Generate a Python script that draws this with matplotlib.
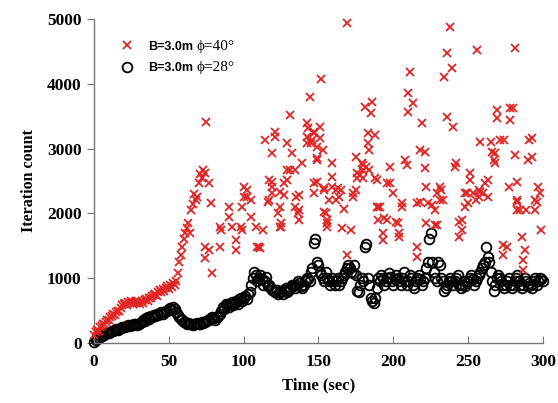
import numpy as np
import matplotlib.pyplot as plt

# black circles: B=3.0m phi=28deg, one value per second (t = 0..300)
black_count = [
    20, 40, 60, 80, 100, 110, 120, 130, 150, 160,
    160, 170, 180, 190, 200, 210, 200, 220, 230, 240,
    250, 240, 260, 270, 260, 280, 270, 290, 300, 280,
    300, 310, 330, 350, 340, 380, 400, 370, 420, 400,
    430, 410, 450, 430, 460, 480, 450, 470, 500, 490,
    520, 540, 510, 550, 520, 480, 430, 400, 370, 350,
    330, 320, 300, 310, 290, 300, 280, 290, 300, 310,
    290, 300, 320, 310, 330, 340, 360, 350, 380, 400,
    380, 360, 400, 420, 450, 500, 550, 520, 600, 580,
    560, 600, 630, 580, 620, 650, 600, 680, 700, 650,
    700, 720, 680, 750, 780, 900, 1000, 1100, 1050, 950,
    1000, 1050, 980, 900, 950, 1020, 880, 900, 850, 820,
    800, 780, 820, 750, 780, 800, 760, 820, 850, 780,
    820, 850, 900, 880, 850, 900, 950, 920, 880, 850,
    900, 950, 1000, 980, 950, 1100, 1150, 1550, 1600, 1250,
    1200, 1100, 1050, 1000, 950, 1100, 1000, 950, 900, 1000,
    950, 900, 950, 1000, 900, 950, 1000, 1050, 1100, 1150,
    1200, 1150, 1100, 1080, 1200, 1050, 800, 780, 900, 1000,
    950, 1480, 1530, 1000, 900, 700, 650, 620, 700, 850,
    1000, 950, 1050, 1000, 900, 950, 1000, 1080, 1020, 950,
    900, 980, 1050, 1000, 950, 900, 1000, 1100, 950, 900,
    950, 1050, 1000, 900, 850, 950, 1000, 1050, 980, 900,
    950, 1000, 1150, 1250, 1600, 1700, 1250, 1100, 1000, 950,
    1250, 1200, 1000, 950, 800, 850, 900, 950, 1000, 950,
    900, 950, 1000, 1050, 900, 850, 900, 950, 880, 920,
    950, 1000, 1050, 980, 900, 950, 1000, 1050, 1100, 1150,
    1200, 1250, 1480, 1330, 1250, 1100, 950, 800, 900, 1000,
    1050, 1000, 950, 900, 850, 900, 950, 1000, 900, 850,
    900, 950, 1000, 1050, 950, 900, 850, 900, 1000, 950,
    880, 920, 900, 850, 950, 1000, 900, 950, 1000, 980,
    950,
]
black_time = np.arange(len(black_count))

# red crosses: B=3.0m phi=40deg, early part one value per second (t = 0..73)
red_early_count = [
    120, 170, 200, 190, 240, 260, 290, 300, 330, 360,
    350, 400, 420, 440, 430, 480, 500, 490, 540, 580,
    600, 620, 590, 630, 610, 640, 600, 620, 650, 610,
    630, 600, 640, 620, 660, 680, 650, 700, 690, 720,
    740, 760, 730, 790, 810, 780, 830, 800, 850, 880,
    840, 900, 870, 920, 890, 950, 1080, 1250, 1350, 1480,
    1600, 1700, 1780, 1850, 1700, 2050, 2150, 2300, 2200, 2250,
    2470, 2600, 2550, 2670,
]
red_early_time = np.arange(len(red_early_count))

# red crosses after t = 74 (time, count)
red_late = [
    (74, 1480), (74, 1310), (74, 2625), (75, 3410), (77, 2470), (77, 1435),
    (78, 2160), (79, 1080), (84, 1480), (84, 1790), (85, 1745), (90, 2100),
    (90, 1945), (92, 1790), (95, 1590), (95, 1435), (98, 1790), (99, 1745),
    (99, 2100), (100, 2405), (100, 2250), (102, 2360), (102, 2250), (105, 2205),
    (105, 1945), (108, 1790), (109, 1480), (110, 1480), (111, 1465), (113, 1745),
    (114, 3130), (116, 2175), (117, 2205), (117, 2515), (119, 2485), (119, 2930),
    (119, 2405), (119, 2315), (121, 3180), (121, 3255), (123, 2005), (124, 2100),
    (124, 2330), (124, 1790), (125, 1790), (125, 1850), (127, 2470), (127, 2285),
    (129, 3085), (129, 2670), (129, 2515), (131, 3520), (131, 2670), (132, 2930),
    (134, 2670), (134, 2100), (135, 2250), (136, 2005), (137, 2050), (137, 1900),
    (137, 2285), (139, 2780), (142, 3395), (142, 3180), (142, 3085), (143, 3320),
    (144, 3795), (145, 3085), (146, 3130), (147, 3240), (147, 2470), (147, 2315),
    (147, 3255), (149, 2825), (149, 2485), (149, 3025), (149, 2855), (151, 3330),
    (151, 3165), (152, 4075), (153, 2980), (154, 2360), (154, 2020), (154, 2390),
    (155, 2005), (156, 1900), (156, 1790), (156, 1850), (157, 2205), (159, 2780),
    (159, 2560), (159, 2405), (162, 2360), (162, 2205), (163, 2390), (164, 2250),
    (165, 2360), (166, 1775), (167, 2070), (169, 4940), (169, 1360), (172, 1745),
    (173, 2315), (173, 2250), (175, 2870), (175, 2360), (176, 2620), (176, 2545),
    (178, 2590), (179, 2780), (180, 2745), (180, 2670), (180, 2545), (181, 3640),
    (182, 2715), (183, 3240), (183, 3085), (184, 2980), (184, 2670), (185, 3550),
    (186, 3720), (188, 3210), (188, 2545), (189, 2515), (189, 2100), (190, 1900),
    (190, 2100), (191, 2100), (193, 1700), (193, 1590), (194, 1930), (196, 1900),
    (196, 2470), (198, 2470), (198, 2715), (200, 2315), (202, 1865), (203, 1850),
    (204, 1700), (204, 1635), (206, 2100), (206, 2160), (208, 2825), (209, 2745),
    (210, 3860), (210, 3565), (211, 4180), (213, 3700), (216, 2160), (216, 1480),
    (216, 1330), (218, 2980), (218, 2175), (219, 3395), (221, 2950), (221, 2700),
    (222, 2405), (222, 1850), (223, 2160), (226, 2130), (228, 2050), (228, 1820),
    (229, 2315), (229, 1820), (231, 2205), (231, 2405), (232, 2360), (233, 2205),
    (234, 4105), (236, 4475), (236, 3485), (238, 4875), (239, 4245), (240, 3335),
    (241, 2715), (242, 2780), (244, 1865), (244, 1635), (246, 1745), (246, 1900),
    (248, 2315), (248, 2100), (249, 2315), (250, 2160), (251, 2625), (251, 2515),
    (253, 2315), (255, 2205), (256, 4520), (257, 2360), (257, 2250), (258, 3100),
    (258, 2330), (260, 2315), (261, 2470), (263, 2515), (263, 2250), (265, 3100),
    (266, 2945), (267, 2825), (268, 2930), (268, 2780), (269, 3595), (269, 3470),
    (271, 3130), (273, 1510), (273, 1360), (274, 3130), (276, 1480), (277, 2405),
    (278, 3625), (278, 3440), (280, 3625), (281, 4550), (281, 2900), (283, 2485),
    (283, 2205), (283, 2050), (283, 2175), (285, 2050), (286, 1635), (287, 1280),
    (287, 1125), (288, 1435), (289, 2050), (290, 2825), (291, 3130), (293, 2870),
    (293, 3165), (295, 2205), (295, 2050), (296, 2175), (297, 2405), (298, 2315),
    (299, 1745),
]
red_late_time = [p[0] for p in red_late]
red_late_count = [p[1] for p in red_late]

red_time = np.concatenate([red_early_time, red_late_time])
red_count = np.concatenate([red_early_count, red_late_count])

fig = plt.figure(figsize=(5.58, 4.03), dpi=100)
ax = fig.add_axes([0.1685, 0.149, 0.8045, 0.804])

ax.plot(black_time, black_count, linestyle="none", marker="o", markersize=7,
        markerfacecolor="none", markeredgecolor="black", markeredgewidth=1.3,
        label="B=3.0m", clip_on=False, zorder=2)
ax.plot(red_time, red_count, linestyle="none", marker="x", markersize=5.5,
        color="#e02424", markeredgewidth=1.3, label="B=3.0m", clip_on=False, zorder=3)

ax.set_xlim(0, 300)
ax.set_ylim(0, 5000)
ax.set_xticks(np.arange(0, 301, 50))
ax.set_yticks(np.arange(0, 5001, 1000))

for s in ["top", "right"]:
    ax.spines[s].set_visible(False)
for s in ["left", "bottom"]:
    ax.spines[s].set_color("#777777")
    ax.spines[s].set_linewidth(1.0)

ax.tick_params(axis="y", direction="out", length=5, color="#777777", pad=4)
ax.tick_params(axis="x", direction="in", length=5, color="#777777", pad=8)
for lbl in ax.get_xticklabels() + ax.get_yticklabels():
    lbl.set_family("Liberation Serif")
    lbl.set_weight("bold")
    lbl.set_fontsize(12.5)

ax.set_xlabel("Time (sec)", family="Liberation Serif", weight="bold", fontsize=12, labelpad=5)
ax.set_ylabel("Iteration count", family="Liberation Serif", weight="bold", fontsize=11.5, labelpad=7)

handles, labels = ax.get_legend_handles_labels()
leg = ax.legend(handles[::-1], labels[::-1], loc="upper left", bbox_to_anchor=(0.035, 0.968),
                frameon=False, handlelength=1.0, handletextpad=1.2, labelspacing=0.75,
                prop={"family": "Liberation Sans", "weight": "bold", "size": 9})

# the phi part of each legend label is set in a serif face, right after the label
fig.canvas.draw()
phi_labels = ["\u03d5=40\u00b0", "\u03d5=28\u00b0"]
W, H = fig.bbox.width, fig.bbox.height
for txt, phi in zip(leg.get_texts(), phi_labels):
    bb = txt.get_window_extent()
    fig.text((bb.x1 + 3) / W, bb.y0 / H, phi, va="bottom", ha="left", fontsize=11,
             family=["Liberation Serif", "DejaVu Serif"])

fig.savefig("out.png", dpi=100, facecolor="white")
